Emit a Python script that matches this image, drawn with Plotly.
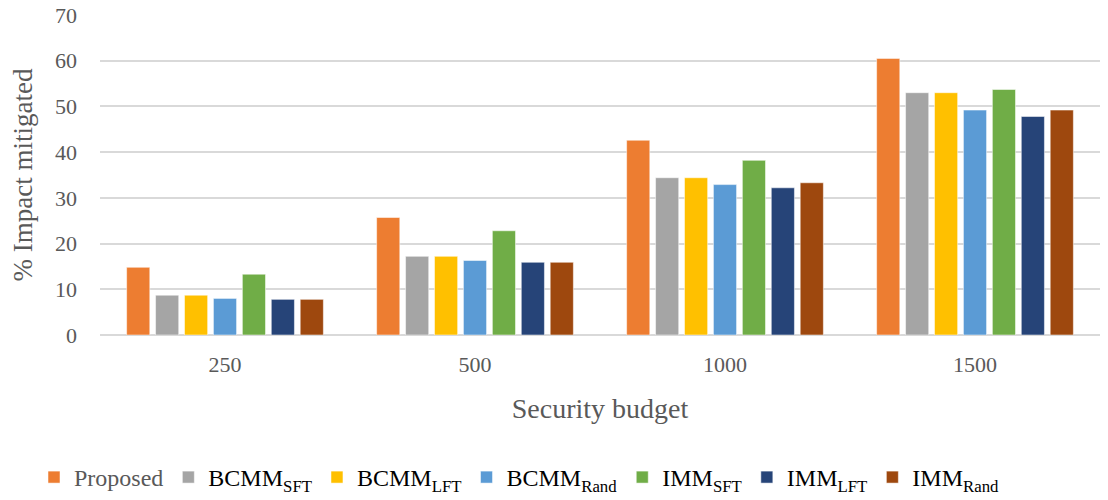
import plotly.graph_objects as go

categories = ["250", "500", "1000", "1500"]
series_names = [
    "Proposed",
    "<span style=\"color:#000000\">BCMM<sub>SFT</sub></span>",
    "<span style=\"color:#000000\">BCMM<sub>LFT</sub></span>",
    "<span style=\"color:#000000\">BCMM<sub>Rand</sub></span>",
    "<span style=\"color:#000000\">IMM<sub>SFT</sub></span>",
    "<span style=\"color:#000000\">IMM<sub>LFT</sub></span>",
    "<span style=\"color:#000000\">IMM<sub>Rand</sub></span>",
]
proposed = [14.8, 25.7, 42.6, 60.5]
bcmm_sft = [8.7, 17.2, 34.4, 53.0]
bcmm_lft = [8.7, 17.2, 34.4, 53.0]
bcmm_rand = [8.0, 16.3, 32.9, 49.2]
imm_sft = [13.3, 22.8, 38.2, 53.7]
imm_lft = [7.8, 15.9, 32.2, 47.8]
imm_rand = [7.8, 15.9, 33.3, 49.2]
colors = ["#ED7D31", "#A5A5A5", "#FFC000", "#5B9BD5", "#70AD47", "#264478", "#9E480E"]
y_ticks = [0, 10, 20, 30, 40, 50, 60, 70]

series_values = [proposed, bcmm_sft, bcmm_lft, bcmm_rand, imm_sft, imm_lft, imm_rand]

fig = go.Figure()
for name, vals, col in zip(series_names, series_values, colors):
    fig.add_trace(go.Bar(
        x=categories, y=vals, name=name,
        marker=dict(color=col, line=dict(color="rgba(255,255,255,0.5)", width=1)),
    ))

font_family = "Liberation Serif, DejaVu Serif, serif"
fig.update_layout(
    width=1108, height=500,
    margin=dict(l=100, r=8, t=15, b=165, autoexpand=False),
    plot_bgcolor="white", paper_bgcolor="white",
    barmode="group", bargap=0.19, bargroupgap=0.2,
    font=dict(family=font_family, color="#595959", size=22),
    xaxis=dict(
        title=dict(text="Security budget", font=dict(size=28, color="#595959"), standoff=22),
        tickfont=dict(size=22, color="#595959"),
        showline=False, ticks="", ticklabelstandoff=14, automargin=False,
    ),
    yaxis=dict(
        title=dict(text="% Impact mitigated", font=dict(size=27, color="#595959"), standoff=14),
        range=[0, 70], tickvals=y_ticks,
        tickfont=dict(size=22, color="#595959"),
        showgrid=True, gridcolor="#D9D9D9", gridwidth=1.5,
        zeroline=True, zerolinecolor="#D9D9D9", zerolinewidth=1.5,
        ticks="", ticklen=0, ticklabelstandoff=22, automargin=False,
    ),
    legend=dict(
        orientation="h", x=-0.066, xanchor="left", y=-0.375, yanchor="top",
        font=dict(size=24, color="#595959"),
        itemwidth=30, tracegroupgap=0,
    ),
)

fig.write_html("out.html")
